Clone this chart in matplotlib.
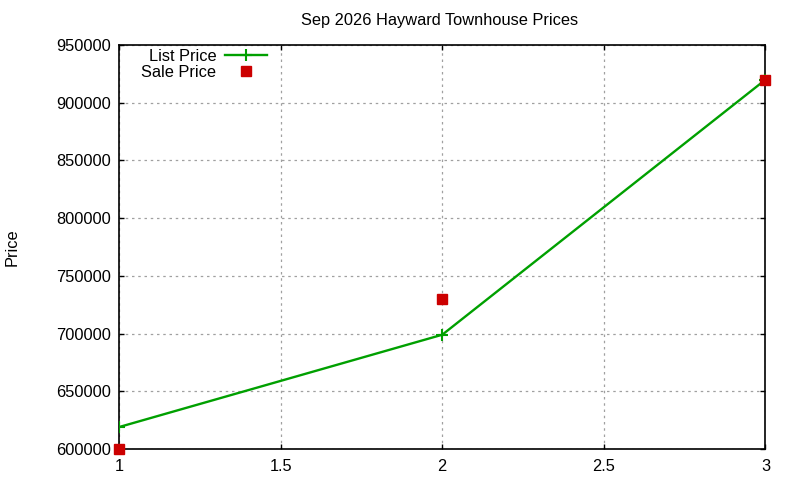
import matplotlib
matplotlib.use("Agg")
import matplotlib.pyplot as plt

x_vals = [1, 2, 3]
list_price = [619000, 699000, 920000]
sale_price = [600000, 730000, 920000]
title = "Sep 2026 Hayward Townhouse Prices"
y_ticks = [600000, 650000, 700000, 750000, 800000, 850000, 900000, 950000]
x_ticks = [1, 1.5, 2, 2.5, 3]
x_tick_labels = ["1", "1.5", "2", "2.5", "3"]

plt.rcParams['font.family'] = ['Liberation Sans', 'DejaVu Sans']
FS = 11.8

fig = plt.figure(figsize=(8, 4.8), dpi=100)
ax = fig.add_axes([119/800, 31/480, 646.5/800, 404/480])

ax.plot(x_vals, list_price, color='#00a000', lw=1.7, marker='+', ms=8, mew=1.5,
        label='List Price', zorder=3)
ax.plot(x_vals, sale_price, ls='none', color='#cc0000', marker='s', ms=6.5,
        label='Sale Price', zorder=4, clip_on=False)

ax.set_xlim(1, 3)
ax.set_ylim(600000, 950000)
ax.set_xticks(x_ticks)
ax.set_xticklabels(x_tick_labels)
ax.set_yticks(y_ticks)
ax.set_yticklabels([str(v) for v in y_ticks])
ax.grid(True, color='#a0a0a0', ls=(0, (2, 3)), lw=0.9)
ax.tick_params(direction='in', top=True, right=True, length=3.5, width=1,
               labelsize=FS)
ax.tick_params(axis='x', pad=7)
ax.tick_params(axis='y', pad=6)
for s in ax.spines.values():
    s.set_linewidth(1.2)

fig.text(440/800, 1 - 20/480, title, fontsize=FS, ha='center', va='center')
fig.text(12/800, 1 - 247/480, "Price", fontsize=FS, ha='center', va='center',
         rotation=90)

leg = ax.legend(loc='upper right', bbox_to_anchor=((268 - 119)/646.5, 1.0 - 3/404),
                markerfirst=False, frameon=False, fontsize=FS,
                handlelength=2.55, borderaxespad=0.0,
                labelspacing=0.08, handletextpad=0.55, borderpad=0.05)

fig.savefig("out.png", dpi=100)
